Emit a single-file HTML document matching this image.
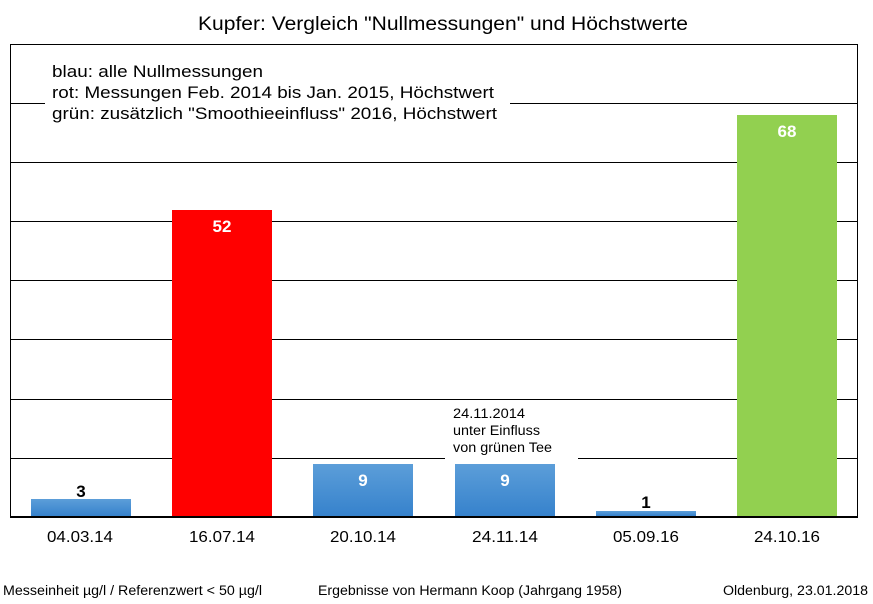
<!DOCTYPE html>
<html><head><meta charset="utf-8"><style>
html,body{margin:0;padding:0;background:#fff;}
svg{display:block;font-family:"Liberation Sans",Arial,sans-serif;}
</style></head><body>
<svg width="873" height="604" viewBox="0 0 873 604" xmlns="http://www.w3.org/2000/svg">
<defs>
<linearGradient id="bl" x1="0" y1="0" x2="0" y2="1">
<stop offset="0" stop-color="#5c9ed9"/><stop offset="1" stop-color="#3682cc"/>
</linearGradient>
</defs>
<rect width="873" height="604" fill="#fff"/>
<text x="198" y="30" font-size="19" textLength="490" lengthAdjust="spacingAndGlyphs" fill="#000">Kupfer: Vergleich "Nullmessungen" und Höchstwerte</text>
<g stroke="#000" stroke-width="1">
<line x1="10" y1="103.5" x2="858" y2="103.5"/>
<line x1="10" y1="162.5" x2="858" y2="162.5"/>
<line x1="10" y1="221.5" x2="858" y2="221.5"/>
<line x1="10" y1="280.5" x2="858" y2="280.5"/>
<line x1="10" y1="339.5" x2="858" y2="339.5"/>
<line x1="10" y1="399.5" x2="858" y2="399.5"/>
<line x1="10" y1="458.5" x2="858" y2="458.5"/>
</g>
<rect x="10.5" y="44.5" width="847" height="473" fill="none" stroke="#000"/>
<line x1="10" y1="517" x2="858" y2="517" stroke="#000" stroke-width="2"/>
<rect x="45" y="55" width="465" height="70" fill="#fff"/>
<g font-size="16.5" fill="#000">
<text x="52" y="77" textLength="211" lengthAdjust="spacingAndGlyphs">blau: alle Nullmessungen</text>
<text x="52" y="98" textLength="442" lengthAdjust="spacingAndGlyphs">rot: Messungen Feb. 2014 bis Jan. 2015, Höchstwert</text>
<text x="52" y="119" textLength="445" lengthAdjust="spacingAndGlyphs">grün: zusätzlich "Smoothieeinfluss" 2016, Höchstwert</text>
</g>
<rect x="445" y="402" width="133" height="60" fill="#fff"/>
<g font-size="13.5" fill="#000">
<text x="453" y="418" textLength="72" lengthAdjust="spacingAndGlyphs">24.11.2014</text>
<text x="453" y="435" textLength="87" lengthAdjust="spacingAndGlyphs">unter Einfluss</text>
<text x="453" y="452" textLength="99" lengthAdjust="spacingAndGlyphs">von grünen Tee</text>
</g>
<rect x="31" y="499" width="100" height="17" fill="url(#bl)"/>
<rect x="172" y="210" width="100" height="306" fill="#ff0000"/>
<rect x="313" y="464" width="100" height="52" fill="url(#bl)"/>
<rect x="455" y="464" width="100" height="52" fill="url(#bl)"/>
<rect x="596" y="511" width="100" height="5" fill="url(#bl)"/>
<rect x="737" y="115" width="100" height="401" fill="#92d050"/>
<g font-size="17" font-weight="bold" text-anchor="middle">
<text x="81" y="497" fill="#000">3</text>
<text x="222" y="232" fill="#fff">52</text>
<text x="363" y="486" fill="#fff">9</text>
<text x="505" y="486" fill="#fff">9</text>
<text x="646" y="508" fill="#000">1</text>
<text x="787" y="137" fill="#fff">68</text>
</g>
<g font-size="15.5" fill="#000">
<text x="47" y="542" textLength="66" lengthAdjust="spacingAndGlyphs">04.03.14</text>
<text x="189" y="542" textLength="66" lengthAdjust="spacingAndGlyphs">16.07.14</text>
<text x="330" y="542" textLength="66" lengthAdjust="spacingAndGlyphs">20.10.14</text>
<text x="472" y="542" textLength="66" lengthAdjust="spacingAndGlyphs">24.11.14</text>
<text x="613" y="542" textLength="66" lengthAdjust="spacingAndGlyphs">05.09.16</text>
<text x="754" y="542" textLength="66" lengthAdjust="spacingAndGlyphs">24.10.16</text>
</g>
<g font-size="13.5" fill="#000">
<text x="3" y="595" textLength="259" lengthAdjust="spacingAndGlyphs">Messeinheit µg/l / Referenzwert &lt; 50 µg/l</text>
<text x="318" y="595" textLength="304" lengthAdjust="spacingAndGlyphs">Ergebnisse von Hermann Koop (Jahrgang 1958)</text>
<text x="723" y="595" textLength="145" lengthAdjust="spacingAndGlyphs">Oldenburg, 23.01.2018</text>
</g>
</svg>
</body></html>
